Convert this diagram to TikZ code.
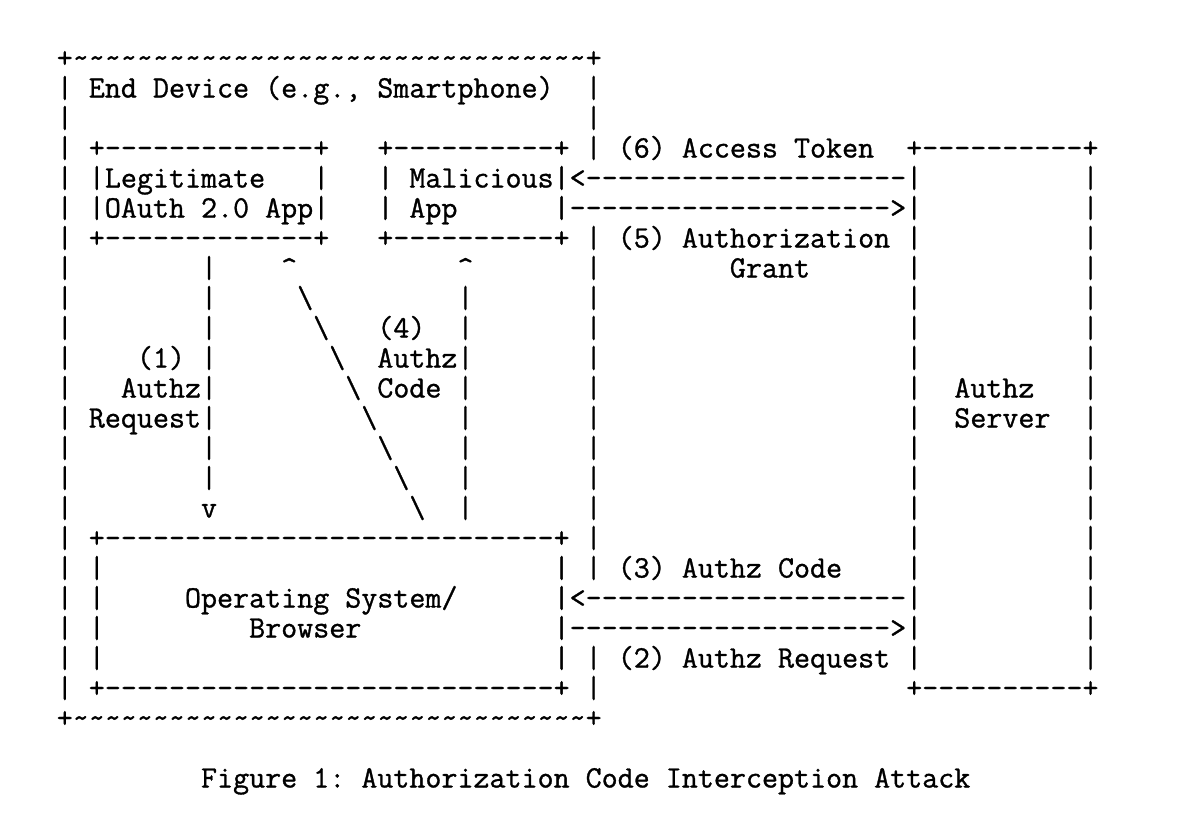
\documentclass[tikz,border=0pt]{standalone}
\usepackage{fontspec}
\newfontfamily\af{Latin Modern Mono}[Ligatures=TeXOff,FakeBold=1]
\ExplSyntaxOn
\cs_new:Npn \rep #1#2 {\prg_replicate:nn{#1}{#2}}
\ExplSyntaxOff
\newcommand\sk[1]{\hspace*{#1\fontcharwd\font`x}}
\newcommand\tld{\textasciitilde}
\newcommand\bsl{\textbackslash}
\newcommand\crt{\textasciicircum}
\tikzset{
  ln/.style={inner sep=0pt, outer sep=0pt, anchor=base west,
    font=\af\fontsize{15.56pt}{15pt}\selectfont\frenchspacing},
}
\newcommand\colx{28.4pt}
\begin{document}
\begin{tikzpicture}
\useasboundingbox (0,0) rectangle (599pt,-408pt);
\node[ln] (r0) at (\colx,-33.75pt) {+\rep{32}{\tld}+};
\node[ln] (r1) at (\colx,-48.75pt) {|\sk1End Device (e.g., Smartphone)\sk2|};
\node[ln] (r2) at (\colx,-63.75pt) {|\sk{32}|};
\node[ln] (r3) at (\colx,-78.75pt) {|\sk1+\rep{13}{-}+\sk3+\rep{10}{-}+\sk1|\sk1(6) Access Token\sk2+\rep{10}{-}+};
\node[ln] (r4) at (\colx,-93.75pt) {|\sk1|Legitimate\sk3|\sk3|\sk1Malicious|<\rep{20}{-}|\sk{10}|};
\node[ln] (r5) at (\colx,-108.75pt) {|\sk1|OAuth 2.0 App|\sk3|\sk1App\sk6|\rep{20}{-}>|\sk{10}|};
\node[ln] (r6) at (\colx,-123.75pt) {|\sk1+\rep{13}{-}+\sk3+\rep{10}{-}+\sk1|\sk1(5) Authorization\sk1|\sk{10}|};
\node[ln] (r7) at (\colx,-138.75pt) {|\sk8|\sk4\crt\sk{10}\crt\sk7|\sk8Grant\sk6|\sk{10}|};
\node[ln] (r8) at (\colx,-153.75pt) {|\sk8|\sk5\bsl\sk9|\sk7|\sk{19}|\sk{10}|};
\node[ln] (r9) at (\colx,-168.75pt) {|\sk8|\sk6\bsl\sk3(4)\sk2|\sk7|\sk{19}|\sk{10}|};
\node[ln] (r10) at (\colx,-183.75pt) {|\sk4(1)\sk1|\sk7\bsl\sk2Authz|\sk7|\sk{19}|\sk{10}|};
\node[ln] (r11) at (\colx,-198.75pt) {|\sk3Authz|\sk8\bsl\sk1Code\sk1|\sk7|\sk{19}|\sk2Authz\sk3|};
\node[ln] (r12) at (\colx,-213.75pt) {|\sk1Request|\sk9\bsl\sk5|\sk7|\sk{19}|\sk2Server\sk2|};
\node[ln] (r13) at (\colx,-228.75pt) {|\sk8|\sk{10}\bsl\sk4|\sk7|\sk{19}|\sk{10}|};
\node[ln] (r14) at (\colx,-243.75pt) {|\sk8|\sk{11}\bsl\sk3|\sk7|\sk{19}|\sk{10}|};
\node[ln] (r15) at (\colx,-258.75pt) {|\sk8v\sk{12}\bsl\sk2|\sk7|\sk{19}|\sk{10}|};
\node[ln] (r16) at (\colx,-273.75pt) {|\sk1+\rep{28}{-}+\sk1|\sk{19}|\sk{10}|};
\node[ln] (r17) at (\colx,-288.75pt) {|\sk1|\sk{28}|\sk1|\sk1(3) Authz Code\sk4|\sk{10}|};
\node[ln] (r18) at (\colx,-303.75pt) {|\sk1|\sk5Operating System/\sk6|<\rep{20}{-}|\sk{10}|};
\node[ln] (r19) at (\colx,-318.75pt) {|\sk1|\sk9Browser\sk{12}|\rep{20}{-}>|\sk{10}|};
\node[ln] (r20) at (\colx,-333.75pt) {|\sk1|\sk{28}|\sk1|\sk1(2) Authz Request\sk1|\sk{10}|};
\node[ln] (r21) at (\colx,-348.75pt) {|\sk1+\rep{28}{-}+\sk1|\sk{19}+\rep{10}{-}+};
\node[ln] (r22) at (\colx,-363.75pt) {+\rep{32}{\tld}+};
\node[ln] (cap) at (\colx,-393.75pt) {\sk9Figure 1: Authorization Code Interception Attack};
\end{tikzpicture}
\end{document}
